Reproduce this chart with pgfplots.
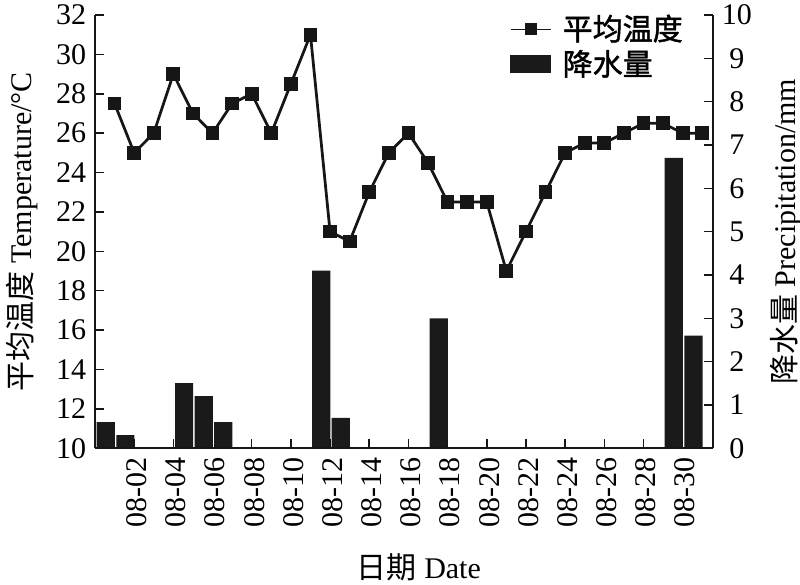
\documentclass[border=0pt]{standalone}
\usepackage{fontspec}
\setmainfont{Liberation Serif}
\newfontfamily\cjk{Noto Sans CJK SC}
\newfontfamily\cjkb[FakeBold=1.5]{Noto Sans CJK SC}
\usepackage{pgfplots}
\usepackage{pgfplotstable}
\pgfplotsset{compat=1.18}

\definecolor{inkc}{HTML}{161616}
\definecolor{barc}{HTML}{1A1A1A}

% daily mean temperature, August
\pgfplotstableread{
day temp
1  27.5
2  25
3  26
4  29
5  27
6  26
7  27.5
8  28
9  26
10 28.5
11 31
12 21
13 20.5
14 23
15 25
16 26
17 24.5
18 22.5
19 22.5
20 22.5
21 19
22 21
23 23
24 25
25 25.5
26 25.5
27 26
28 26.5
29 26.5
30 26
31 26
}\temptable

% daily precipitation (mm), days without rain left out
\pgfplotstableread{
day rain
1  0.6
2  0.3
5  1.5
6  1.2
7  0.6
12 4.1
13 0.7
18 3.0
30 6.7
31 2.6
}\raintable

\pgfplotsset{
  twin/.style={
    scale only axis, width=247.2pt, height=173.3pt,
    xmin=0, xmax=31.55,
    tick align=inside, major tick length=3.5pt,
    axis line style={-, line width=0.6pt, inkc},
    tick style={line width=0.6pt, inkc},
    tick label style={font=\fontsize{12}{14}\selectfont},
    label style={font=\fontsize{12}{14}\selectfont},
    /pgf/number format/assume math mode=true,
  }
}

\begin{document}
\begin{tikzpicture}
% precipitation, right axis (drawn first so the line lies on top)
\begin{axis}[twin,
  axis y line*=right, axis x line=none,
  ymin=0, ymax=10, ytick={0,1,...,10},
  yticklabel style={text width=1.2em, align=center},
  ylabel={{\cjk 降水量} Precipitation/mm},
  ylabel style={at={(axis description cs:1.118,0.5)}, anchor=center},
]
\addplot[ybar, bar width=0.93, bar shift=-0.45, fill=barc, draw=none]
  table[x=day, y=rain]{\raintable};
\end{axis}

% temperature, left axis
\begin{axis}[twin, name=T,
  axis x line*=bottom, axis y line*=left,
  ymin=10, ymax=32, ytick={10,12,...,32},
  xtick={2,4,...,30},
  xticklabels={08-02,08-04,08-06,08-08,08-10,08-12,08-14,08-16,08-18,08-20,08-22,08-24,08-26,08-28,08-30},
  xticklabel style={rotate=90, anchor=east, yshift=-1pt},
  xlabel={{\cjk 日期} Date},
  xlabel style={at={(axis description cs:0.524,-0.276)}, anchor=center},
  ylabel={{\cjk 平均温度} Temperature/°C},
  ylabel style={at={(axis description cs:-0.118,0.5)}, anchor=center},
  legend style={at={(0.972,1.025)}, anchor=north east, draw=none, fill=none,
    font=\fontsize{12}{13}\selectfont, row sep=-1.5pt, column sep=2.5pt},
  legend cell align=left,
]
\addplot[line width=1.1pt, inkc, mark=square*, mark size=2.2pt,
  legend image code/.code={
    \draw[line width=0.5pt] (0pt,0pt) -- (16pt,0pt);
    \fill (6.2pt,-1.8pt) rectangle (9.8pt,1.8pt);}]
  table[x=day, y=temp]{\temptable};
\addlegendentry{\cjkb 平均温度}
\addlegendimage{legend image code/.code={\fill[barc] (0pt,-3.4pt) rectangle (16pt,3.4pt);}}
\addlegendentry{\cjkb 降水量}
\end{axis}

\pgfresetboundingbox
\path[use as bounding box] ([xshift=-38pt,yshift=-54.7pt]T.south west)
  rectangle ([xshift=34.8pt,yshift=6pt]T.north east);
\end{tikzpicture}
\end{document}
